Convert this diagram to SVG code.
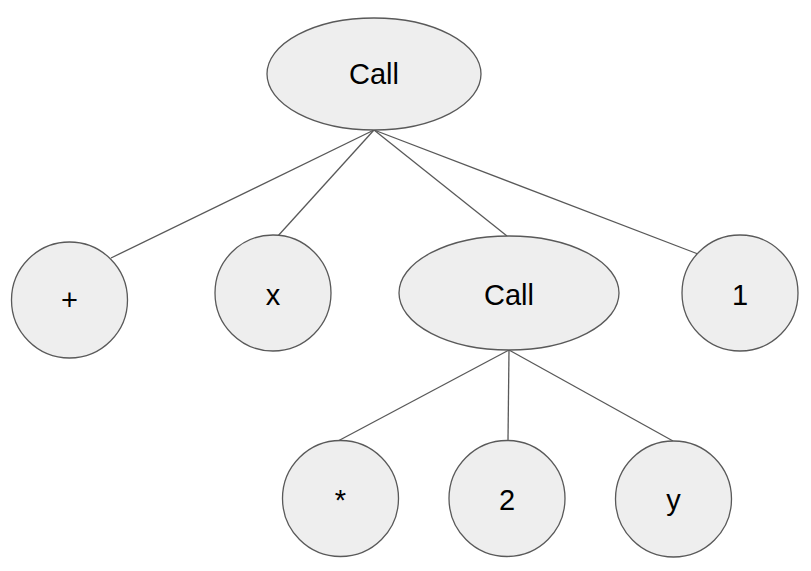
<svg xmlns="http://www.w3.org/2000/svg" width="811" height="571" viewBox="0 0 811 571">
  <style>
    .node { fill: #eeeeee; stroke: #595959; stroke-width: 1.3; }
    .edge { stroke: #595959; stroke-width: 1.3; fill: none; }
    .label { font-family: "Liberation Sans", Arial, sans-serif; font-size: 29px; fill: #000000; text-anchor: middle; }
  </style>
  <rect width="811" height="571" fill="#ffffff"/>
  <g id="edges">
    <line class="edge" x1="374" y1="130" x2="111" y2="258"/>
    <line class="edge" x1="374" y1="130" x2="277" y2="237"/>
    <line class="edge" x1="374" y1="130" x2="507" y2="236"/>
    <line class="edge" x1="374" y1="130" x2="698" y2="254"/>
    <line class="edge" x1="509" y1="350" x2="338" y2="441"/>
    <line class="edge" x1="509" y1="350" x2="508" y2="440"/>
    <line class="edge" x1="509" y1="350" x2="673" y2="441"/>
  </g>
  <g id="call-root">
    <ellipse class="node" cx="374" cy="74" rx="107" ry="56"/>
    <text class="label" x="374" y="84">Call</text>
  </g>
  <g id="plus">
    <circle class="node" cx="69.5" cy="300" r="58"/>
    <text class="label" x="69.5" y="310">+</text>
  </g>
  <g id="x">
    <circle class="node" cx="273" cy="293" r="58"/>
    <text class="label" x="273" y="305">x</text>
  </g>
  <g id="call-inner">
    <ellipse class="node" cx="509" cy="293" rx="110" ry="57"/>
    <text class="label" x="509" y="305">Call</text>
  </g>
  <g id="one">
    <circle class="node" cx="740" cy="293" r="58"/>
    <text class="label" x="740" y="305">1</text>
  </g>
  <g id="times">
    <circle class="node" cx="340.5" cy="498.5" r="58"/>
    <text class="label" x="340.5" y="510">*</text>
  </g>
  <g id="two">
    <circle class="node" cx="507" cy="498.5" r="58"/>
    <text class="label" x="507" y="510">2</text>
  </g>
  <g id="y">
    <circle class="node" cx="673.5" cy="499" r="58"/>
    <text class="label" x="673.5" y="510">y</text>
  </g>
</svg>
